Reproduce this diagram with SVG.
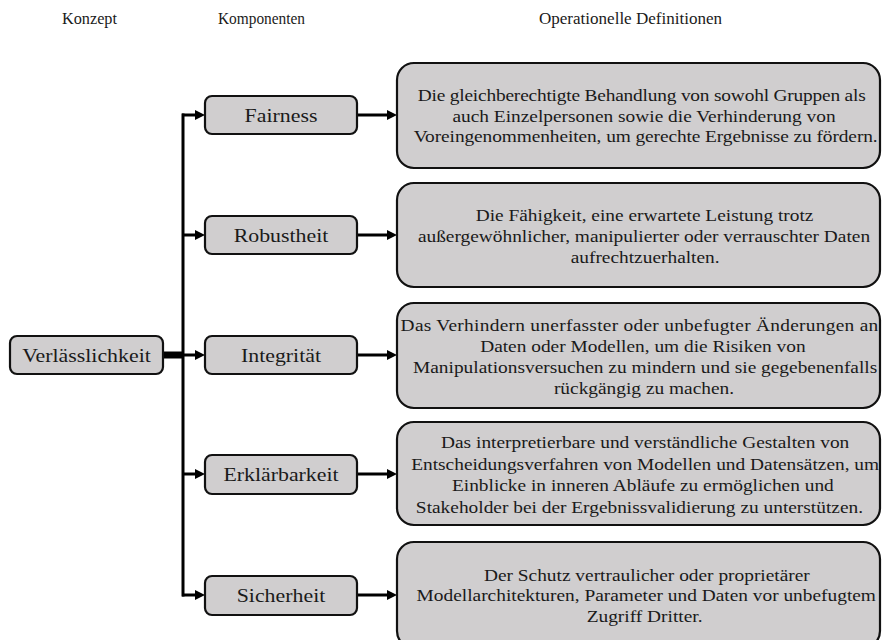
<svg xmlns="http://www.w3.org/2000/svg" width="882" height="640" viewBox="0 0 882 640">
  <defs>
    <marker id="head" markerUnits="userSpaceOnUse" markerWidth="10" markerHeight="10" refX="0" refY="5" orient="auto">
      <path d="M0,0 L10,5 L0,10 Z" fill="#000"/>
    </marker>
    <style>
      text { font-family: "Liberation Serif", "DejaVu Serif", serif; fill: #1a1a1a; text-anchor: middle; }
      .hdr { font-size: 16px; }
      .lbl { font-size: 19px; }
      .def { font-size: 17px; }
      .box { fill: #d0cecf; stroke: #111; stroke-width: 2.2; }
      .wire { stroke: #000; stroke-width: 3; fill: none; }
      .arrow { stroke: #000; stroke-width: 3; fill: none; marker-end: url(#head); }
    </style>
  </defs>

  <rect width="882" height="640" fill="#fff"/>

  <!-- column headings -->
  <g id="headings">
    <text class="hdr" x="89.5" y="23.5" textLength="55" lengthAdjust="spacingAndGlyphs">Konzept</text>
    <text class="hdr" x="261.5" y="23.5" textLength="87" lengthAdjust="spacingAndGlyphs">Komponenten</text>
    <text class="hdr" x="630.5" y="23.5" textLength="183" lengthAdjust="spacingAndGlyphs">Operationelle Definitionen</text>
  </g>

  <!-- connectors -->
  <g id="connectors">
    <line class="wire" x1="183" y1="115" x2="183" y2="595" stroke-linecap="square"/>
    <line x1="163" y1="355" x2="184" y2="355" stroke="#000" stroke-width="7"/>
    <line class="arrow" x1="182" y1="115" x2="195" y2="115"/>
    <line class="arrow" x1="182" y1="235" x2="195" y2="235"/>
    <line class="arrow" x1="182" y1="355" x2="195" y2="355"/>
    <line class="arrow" x1="182" y1="474" x2="195" y2="474"/>
    <line class="arrow" x1="182" y1="595" x2="195" y2="595"/>
    <line class="arrow" x1="357" y1="115" x2="387" y2="115"/>
    <line class="arrow" x1="357" y1="235" x2="387" y2="235"/>
    <line class="arrow" x1="357" y1="355" x2="387" y2="355"/>
    <line class="arrow" x1="357" y1="474" x2="387" y2="474"/>
    <line class="arrow" x1="357" y1="595" x2="387" y2="595"/>
  </g>

  <!-- concept (text widened slightly for the book-face proportions) -->
  <g id="verlaesslichkeit">
    <rect class="box" x="10" y="336" width="153" height="38" rx="7"/>
    <text class="lbl" transform="translate(86.5 362) scale(1.15 1)">Verlässlichkeit</text>
  </g>

  <!-- components -->
  <g id="fairness">
    <rect class="box" x="205" y="96" width="152" height="38" rx="7"/>
    <text class="lbl" transform="translate(281 122) scale(1.15 1)">Fairness</text>
  </g>
  <g id="robustheit">
    <rect class="box" x="205" y="216" width="152" height="38" rx="7"/>
    <text class="lbl" transform="translate(281 242) scale(1.15 1)">Robustheit</text>
  </g>
  <g id="integritaet">
    <rect class="box" x="205" y="336" width="152" height="38" rx="7"/>
    <text class="lbl" transform="translate(281 362) scale(1.15 1)">Integrität</text>
  </g>
  <g id="erklaerbarkeit">
    <rect class="box" x="205" y="455" width="152" height="39" rx="7"/>
    <text class="lbl" transform="translate(281 481) scale(1.15 1)">Erklärbarkeit</text>
  </g>
  <g id="sicherheit">
    <rect class="box" x="205" y="576" width="152" height="39" rx="7"/>
    <text class="lbl" transform="translate(281 602) scale(1.15 1)">Sicherheit</text>
  </g>

  <!-- operational definitions -->
  <g id="def-fairness">
    <rect class="box" x="397" y="63" width="483" height="105" rx="17"/>
    <g transform="translate(644 0) scale(1.14 1)">
      <text class="def" x="-2" y="101.5" textLength="393" lengthAdjust="spacing">Die gleichberechtigte Behandlung von sowohl Gruppen als</text>
      <text class="def" x="0" y="122">auch Einzelpersonen sowie die Verhinderung von</text>
      <text class="def" x="1.5" y="142.5" textLength="407" lengthAdjust="spacing">Voreingenommenheiten, um gerechte Ergebnisse zu fördern.</text>
    </g>
  </g>
  <g id="def-robustheit">
    <rect class="box" x="397" y="183" width="483" height="104" rx="17"/>
    <g transform="translate(644 0) scale(1.14 1)">
      <text class="def" x="0.5" y="221">Die Fähigkeit, eine erwartete Leistung trotz</text>
      <text class="def" x="0" y="242">außergewöhnlicher, manipulierter oder verrauschter Daten</text>
      <text class="def" x="1" y="263">aufrechtzuerhalten.</text>
    </g>
  </g>
  <g id="def-integritaet">
    <rect class="box" x="397" y="303" width="483" height="105" rx="17"/>
    <g transform="translate(644 0) scale(1.14 1)">
      <text class="def" x="-4" y="331.5" textLength="419" lengthAdjust="spacing">Das Verhindern unerfasster oder unbefugter Änderungen an</text>
      <text class="def" x="-1" y="352.5">Daten oder Modellen, um die Risiken von</text>
      <text class="def" x="1" y="373.5">Manipulationsversuchen zu mindern und sie gegebenenfalls</text>
      <text class="def" x="0" y="394.5">rückgängig zu machen.</text>
    </g>
  </g>
  <g id="def-erklaerbarkeit">
    <rect class="box" x="397" y="422" width="483" height="103" rx="17"/>
    <g transform="translate(644 0) scale(1.14 1)">
      <text class="def" x="1" y="448">Das interpretierbare und verständliche Gestalten von</text>
      <text class="def" x="1" y="470">Entscheidungsverfahren von Modellen und Datensätzen, um</text>
      <text class="def" x="-1" y="491.5">Einblicke in inneren Abläufe zu ermöglichen und</text>
      <text class="def" x="-4" y="513">Stakeholder bei der Ergebnissvalidierung zu unterstützen.</text>
    </g>
  </g>
  <g id="def-sicherheit">
    <rect class="box" x="397" y="542" width="483" height="106" rx="17"/>
    <g transform="translate(644 0) scale(1.14 1)">
      <text class="def" x="2.5" y="581">Der Schutz vertraulicher oder proprietärer</text>
      <text class="def" x="2" y="601.5">Modellarchitekturen, Parameter und Daten vor unbefugtem</text>
      <text class="def" x="0.5" y="622">Zugriff Dritter.</text>
    </g>
  </g>
</svg>
